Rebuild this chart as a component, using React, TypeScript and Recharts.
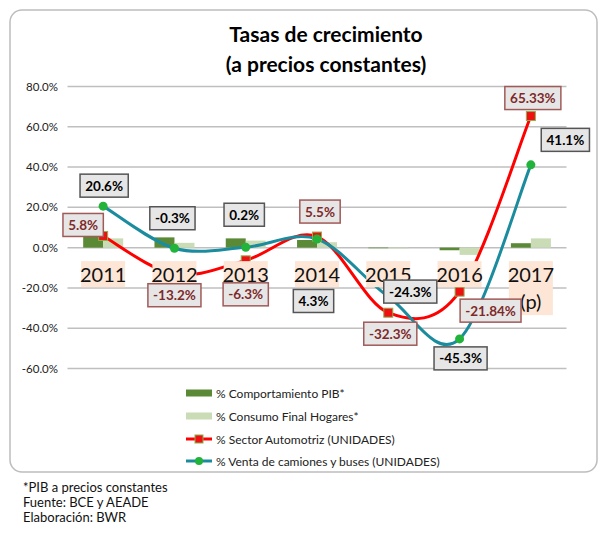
import { Bar, CartesianGrid, ComposedChart, LabelList, Line, XAxis, YAxis } from "recharts";

const years = ["2011", "2012", "2013", "2014", "2015", "2016", "2017"];
const yearNotes = ["", "", "", "", "", "", "(p)"];
const pib = [6.0, 5.1, 4.6, 3.8, -0.3, -1.3, 2.2];
const consumo = [4.6, 2.4, 3.5, 2.7, -0.4, -3.6, 4.6];
const automotriz = [5.8, -13.2, -6.3, 5.5, -32.3, -21.84, 65.33];
const camiones = [20.6, -0.3, 0.2, 4.3, -24.3, -45.3, 41.1];
const yTicks = [-60, -40, -20, 0, 20, 40, 60, 80];

const seriesNames = [
  "% Comportamiento PIB*",
  "% Consumo Final Hogares*",
  "% Sector Automotriz (UNIDADES)",
  "% Venta de camiones y buses (UNIDADES)",
];
const footnotes = ["*PIB a precios constantes", "Fuente: BCE y AEADE", "Elaboración: BWR"];

const PIB_COLOR = "#5B8A36";
const CONSUMO_COLOR = "#C9DCB5";
const RED = "#FF0000";
const TEAL = "#1B8C9E";
const GREEN_DOT = "#22B33A";
const FONT = "Lato, 'Open Sans', sans-serif";

// label box offsets from each point (dx, dy)
const redOffsets = [[-20, -11], [0, 21], [0, 34], [3, -25], [2, 21], [31, 19], [2, -18]];
const tealOffsets = [[1, -20.5], [-2, -30], [-1.5, -32.5], [-3.5, 62], [22, -5], [1, 19.5], [34.5, -25]];

const rows = years.map((year, i) => ({
  year,
  pib: pib[i],
  consumo: consumo[i],
  auto: automotriz[i],
  cam: camiones[i],
  base: 0,
}));

// Excel-like smoothed line (Catmull-Rom through the points)
function excelSmooth(context: any) {
  let pts: number[][] = [];
  return {
    areaStart() {},
    areaEnd() {},
    lineStart() {
      pts = [];
    },
    point(x: number, y: number) {
      pts.push([+x, +y]);
    },
    lineEnd() {
      if (!pts.length) return;
      context.moveTo(pts[0][0], pts[0][1]);
      const t = 1 / 6;
      for (let i = 0; i < pts.length - 1; i++) {
        const p0 = pts[i - 1] || pts[i];
        const p1 = pts[i];
        const p2 = pts[i + 1];
        const p3 = pts[i + 2] || p2;
        context.bezierCurveTo(
          p1[0] + (p2[0] - p0[0]) * t,
          p1[1] + (p2[1] - p0[1]) * t,
          p2[0] - (p3[0] - p1[0]) * t,
          p2[1] - (p3[1] - p1[1]) * t,
          p2[0],
          p2[1]
        );
      }
    },
  };
}

function fmt(v: number) {
  const tenth = Math.abs(v * 10 - Math.round(v * 10)) < 1e-6;
  return (tenth ? v.toFixed(1) : v.toFixed(2)) + "%";
}

function textWidth(s: string, size: number) {
  let w = 0;
  for (const c of s) {
    if (c === ".") w += 0.27;
    else if (c === "-") w += 0.36;
    else if (c === "%") w += 0.82;
    else w += 0.58;
  }
  return w * size;
}

function boxLabel(values: number[], offsets: number[][], textColor: string, border: string) {
  return (props: any) => {
    const { x, y, index } = props;
    const [dx, dy] = offsets[index];
    const text = fmt(values[index]);
    const w = textWidth(text, 13.5) + 10;
    const cx = x + dx;
    const cy = y + dy;
    return (
      <g>
        <rect x={cx - w / 2} y={cy - 11.5} width={w} height={23} fill="#E6E6E6" stroke={border} strokeWidth={1.5} />
        <text x={cx} y={cy + 5} textAnchor="middle" fontFamily={FONT} fontWeight={700} fontSize={13.5} fill={textColor}>
          {text}
        </text>
      </g>
    );
  };
}

const YearLabel = (props: any) => {
  const { x, y, index } = props;
  const note = yearNotes[index];
  return (
    <g>
      <rect x={x - 22} y={y + 13.5} width={44} height={note ? 54 : 26} fill="#FDE6D6" />
      <text x={x} y={y + 34} textAnchor="middle" fontFamily={FONT} fontSize={20} fill="#111">
        {years[index]}
      </text>
      {note && (
        <text x={x} y={y + 61} textAnchor="middle" fontFamily={FONT} fontSize={20} fill="#111">
          {note}
        </text>
      )}
    </g>
  );
};

const SquareDot = (p: any) => (
  <rect x={p.cx - 4.5} y={p.cy - 4.5} width={9} height={9} fill="#EE1111" stroke="#8DB04E" strokeWidth={1} />
);
const CircleDot = (p: any) => <circle cx={p.cx} cy={p.cy} r={4.5} fill={GREEN_DOT} />;

function LegendBox() {
  const ys = [393, 416, 439, 461];
  return (
    <g>
      {seriesNames.map((name, i) => (
        <g key={name}>
          {i < 2 ? (
            <rect x={186} y={ys[i] - 3.5} width={26} height={7} fill={i === 0 ? PIB_COLOR : CONSUMO_COLOR} />
          ) : (
            <g>
              <line x1={186} x2={212} y1={ys[i]} y2={ys[i]} stroke={i === 2 ? RED : TEAL} strokeWidth={3} />
              {i === 2 ? (
                <rect x={195} y={ys[i] - 4} width={8} height={8} fill="#EE1111" stroke="#8DB04E" />
              ) : (
                <circle cx={199} cy={ys[i]} r={4} fill={GREEN_DOT} />
              )}
            </g>
          )}
          <text x={216} y={ys[i] + 4.5} fontFamily={FONT} fontSize={12} fill="#222">
            {name}
          </text>
        </g>
      ))}
    </g>
  );
}

export default function App() {
  return (
    <div style={{ position: "relative", width: 605, height: 538, background: "#fff" }}>
      <style>{`body{margin:0}`}</style>
      <svg width={605} height={538} style={{ position: "absolute", left: 0, top: 0 }}>
        <rect x={10} y={10} width={587} height={462} rx={12} fill="#fff" stroke="#BDBDBD" strokeWidth={1.5} />
        <text x={326} y={42} textAnchor="middle" fontFamily={FONT} fontWeight={700} fontSize={21} fill="#000">
          Tasas de crecimiento
        </text>
        <text x={326} y={72} textAnchor="middle" fontFamily={FONT} fontWeight={700} fontSize={21} fill="#000">
          (a precios constantes)
        </text>
        <LegendBox />
        {footnotes.map((t, i) => (
          <text key={t} x={23} y={492 + i * 15} fontFamily={FONT} fontSize={13} fill="#111">
            {t}
          </text>
        ))}
      </svg>
      <div style={{ position: "absolute", left: 0, top: 0 }}>
        <ComposedChart
          width={605}
          height={380}
          data={rows}
          margin={{ top: 86.5, right: 38.5, bottom: 11.5, left: 0 }}
          barGap={0}
          barCategoryGap="22%"
        >
          <CartesianGrid vertical={false} stroke="#BFBFBF" strokeWidth={1.5} />
          <XAxis dataKey="year" hide />
          <YAxis
            width={67.5}
            domain={[-60, 80]}
            ticks={yTicks}
            axisLine={false}
            tickLine={false}
            tickFormatter={(v: number) => v.toFixed(1) + "%"}
            tick={{ fontSize: 11.5, fill: "#222", fontFamily: FONT, dx: -1.5 }}
          />
          <Line dataKey="base" stroke="none" dot={false} activeDot={false} legendType="none" isAnimationActive={false}>
            <LabelList content={YearLabel} />
          </Line>
          <Bar dataKey="pib" name={seriesNames[0]} fill={PIB_COLOR} isAnimationActive={false} />
          <Bar dataKey="consumo" name={seriesNames[1]} fill={CONSUMO_COLOR} isAnimationActive={false} />
          <Line
            dataKey="auto"
            name={seriesNames[2]}
            type={excelSmooth as any}
            stroke={RED}
            strokeWidth={3}
            dot={SquareDot}
            activeDot={false}
            isAnimationActive={false}
          >
            <LabelList content={boxLabel(automotriz, redOffsets, "#7F2A2A", "#A05A58")} />
          </Line>
          <Line
            dataKey="cam"
            name={seriesNames[3]}
            type={excelSmooth as any}
            stroke={TEAL}
            strokeWidth={3}
            dot={CircleDot}
            activeDot={false}
            isAnimationActive={false}
          >
            <LabelList content={boxLabel(camiones, tealOffsets, "#000", "#555555")} />
          </Line>
        </ComposedChart>
      </div>
    </div>
  );
}
